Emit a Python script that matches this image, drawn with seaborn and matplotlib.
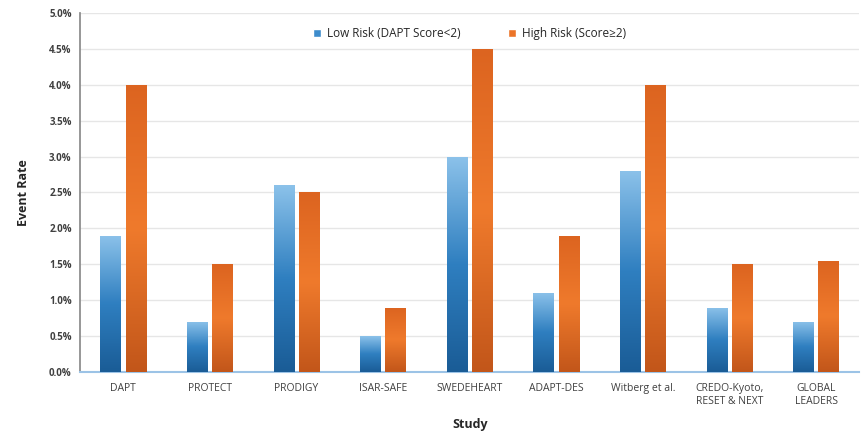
"""Event rates by study, low vs high DAPT score."""
import matplotlib
matplotlib.use("Agg")
import matplotlib.pyplot as plt
import matplotlib.colors as mcolors
from matplotlib.patches import Patch
from matplotlib.ticker import PercentFormatter, MultipleLocator
import numpy as np
import pandas as pd
import seaborn as sns

studies = ['DAPT', 'PROTECT', 'PRODIGY', 'ISAR-SAFE', 'SWEDEHEART',
           'ADAPT-DES', 'Witberg et al.', 'CREDO-Kyoto,\nRESET & NEXT',
           'GLOBAL\nLEADERS']
low_risk = [1.9, 0.7, 2.6, 0.5, 3.0, 1.1, 2.8, 0.9, 0.7]
high_risk = [4.0, 1.5, 2.5, 0.9, 4.5, 1.9, 4.0, 1.5, 1.55]
groups = ['Low Risk (DAPT Score<2)', 'High Risk (Score\u22652)']

df = pd.DataFrame({
    'Study': studies * 2,
    'Rate': low_risk + high_risk,
    'Group': [groups[0]] * len(studies) + [groups[1]] * len(studies),
})

blue = '#3d8ccc'
orange = '#ec7428'
palette = {groups[0]: blue, groups[1]: orange}

sns.set_theme(style='white')
plt.rcParams['font.family'] = ['Open Sans', 'DejaVu Sans']

fig = plt.figure(figsize=(8.65, 4.41), dpi=100)
ax = fig.add_axes([0.0925, 0.156, 0.901, 0.815])

sns.barplot(data=df, x='Study', y='Rate', hue='Group', palette=palette,
            width=0.58, gap=0.18, saturation=1, legend=False, ax=ax, zorder=3)

# gradient fills clipped to each bar (patches come low-risk first, then high)
blue_cmap = mcolors.LinearSegmentedColormap.from_list(
    'b', ['#1a5c96', '#2f7fc0', '#8cc2ea'])
orange_cmap = mcolors.LinearSegmentedColormap.from_list(
    'o', ['#c2561a', '#ef7a2c', '#dc6420'])
grad = np.linspace(0, 1, 256).reshape(-1, 1)
bars = list(ax.patches)
for i, p in enumerate(bars):
    x0, y0 = p.get_x(), p.get_y()
    w, h = p.get_width(), p.get_height()
    cmap = blue_cmap if i < len(studies) else orange_cmap
    im = ax.imshow(grad, cmap=cmap, aspect='auto', origin='lower',
                   extent=[x0, x0 + w, y0, y0 + h], zorder=3)
    im.set_clip_path(p)
    p.set_facecolor('none')
    p.set_edgecolor('none')

ax.set_xlim(-0.5, len(studies) - 0.5)
ax.set_ylim(0, 5.0)
ax.yaxis.set_major_locator(MultipleLocator(0.5))
ax.yaxis.set_major_formatter(PercentFormatter(decimals=1))
ax.grid(axis='y', color='#e6e6e6', linewidth=1, zorder=0)
ax.set_axisbelow(True)

for s in ['top', 'right']:
    ax.spines[s].set_visible(False)
ax.spines['left'].set_color('#8a8a8a')
ax.spines['bottom'].set_color('#9cc3e6')
ax.spines['bottom'].set_linewidth(1.5)

ax.tick_params(axis='y', labelsize=7, colors='#404040', length=0, pad=6)
ax.tick_params(axis='x', labelsize=7.5, colors='#404040', length=0, pad=8)
for t in ax.get_yticklabels():
    t.set_fontweight('bold')

ax.set_ylabel('Event Rate', fontsize=9, fontweight='bold', color='#262626',
              labelpad=14)
ax.set_xlabel('Study', fontsize=9, fontweight='bold', color='#262626',
              labelpad=8)

handles = [Patch(facecolor=blue, label=groups[0]),
           Patch(facecolor=orange, label=groups[1])]
ax.legend(handles=handles, loc='upper center', bbox_to_anchor=(0.5, 0.99),
          ncol=2, frameon=False, fontsize=8.5, handlelength=0.7,
          handleheight=0.7, columnspacing=4, handletextpad=0.5)

fig.savefig('out.png', dpi=100)
plt.close(fig)
